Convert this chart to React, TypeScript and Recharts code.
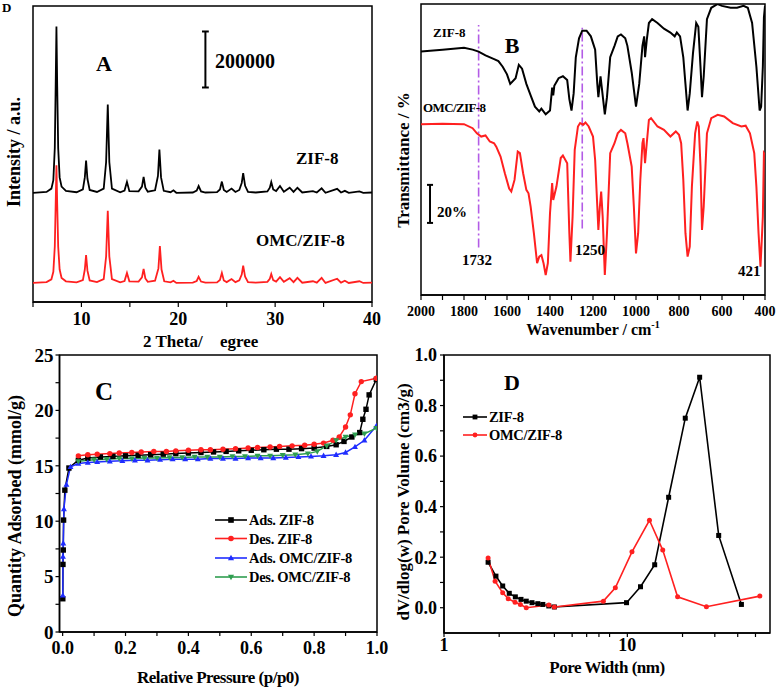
import React from 'react';
import { LineChart, Line, XAxis, YAxis, ReferenceArea, ReferenceLine } from 'recharts';

const FONT = '"Liberation Serif", "Times New Roman", Times, serif';

// ---------- Panel A : XRD ----------
const xrdTicks = [5, 10, 15, 20, 25, 30, 35, 40];
const XRD_OFFSET_ZIF8 = 390000;
const XRD_OFFSET_OMC = 68000;
const XRD_MAX = 1057000;
const XRD_BAR = [766000, 966000];
const xrdZif8: [number, number][] = [
  [5, 0], [6.4, 3000], [6.9, 15000], [7.1, 45000], [7.25, 160000], [7.34, 380000], [7.42, 594000], [7.5, 380000], [7.6, 160000],
  [7.75, 55000], [7.95, 22000], [8.4, 7000], [9.5, 2000], [10.15, 12000], [10.35, 55000], [10.48, 115000], [10.62, 50000], [10.85, 10000],
  [11.6, 3000], [12.3, 15000], [12.55, 110000], [12.72, 315000], [12.88, 110000], [13.15, 15000], [14.0, 2000], [14.45, 8000],
  [14.7, 39000], [14.95, 6000], [15.9, 5000], [16.25, 22000], [16.42, 57000], [16.6, 18000], [16.85, 4000], [17.6, 9000], [17.9, 60000],
  [18.05, 154000], [18.22, 55000], [18.5, 7000], [19.2, 2000], [19.5, 9000], [19.8, 0], [21.5, 1000], [21.9, 8000], [22.1, 24000],
  [22.35, 5000], [22.8, 1000], [24.0, 2000], [24.3, 12000], [24.5, 40000], [24.7, 10000], [25.0, 3000], [25.5, 15000], [25.9, 3000],
  [26.3, 10000], [26.55, 35000], [26.7, 70000], [26.9, 25000], [27.2, 3000], [28, 1000], [29.2, 5000], [29.45, 18000], [29.6, 38000],
  [29.8, 12000], [30.1, 6000], [30.5, 24000], [30.9, 4000], [31.5, 18000], [31.9, 3000], [32.3, 18000], [32.8, 1000], [33.9, 6000],
  [34.3, 1000], [34.8, 16000], [35.2, 0], [36.4, 14000], [36.8, 1000], [37.2, 7000], [37.6, 0], [38.7, 5000], [39.1, 0], [40, 1000],
];
const xrdOmc: [number, number][] = [
  [5, 0], [6.4, 3000], [6.9, 13000], [7.1, 40000], [7.25, 130000], [7.34, 280000], [7.42, 420000], [7.5, 280000], [7.6, 130000],
  [7.75, 48000], [7.95, 18000], [8.4, 6000], [9.5, 2000], [10.15, 10000], [10.35, 48000], [10.48, 100000], [10.62, 44000], [10.85, 9000],
  [11.6, 3000], [12.3, 14000], [12.55, 95000], [12.72, 258000], [12.88, 95000], [13.15, 14000], [14.0, 2000], [14.45, 7000],
  [14.7, 36000], [14.95, 6000], [15.9, 5000], [16.25, 20000], [16.42, 50000], [16.6, 16000], [16.85, 4000], [17.6, 8000], [17.95, 52000],
  [18.1, 132000], [18.27, 48000], [18.55, 6000], [19.2, 2000], [19.5, 8000], [19.8, 0], [21.5, 1000], [21.9, 7000], [22.1, 22000],
  [22.35, 5000], [22.8, 1000], [24.0, 2000], [24.3, 11000], [24.5, 36000], [24.7, 9000], [25.0, 3000], [25.5, 14000], [25.9, 3000],
  [26.3, 9000], [26.55, 30000], [26.7, 62000], [26.9, 22000], [27.2, 3000], [28, 1000], [29.2, 4000], [29.45, 15000], [29.6, 32000],
  [29.8, 10000], [30.1, 5000], [30.5, 21000], [30.9, 4000], [31.5, 17000], [31.9, 3000], [32.3, 18000], [32.8, 1000], [33.9, 6000],
  [34.3, 1000], [34.8, 18000], [35.2, 0], [36.4, 15000], [36.8, 1000], [37.2, 8000], [37.6, 0], [38.7, 6000], [39.1, 0], [40, 1000],
];

// ---------- Panel B : FTIR ----------
const ftirTicks = [400, 500, 600, 700, 800, 900, 1000, 1100, 1200, 1300, 1400, 1500, 1600, 1700, 1800, 1900, 2000];
const FTIR_MAX = 153;
const ftirZif8: [number, number][] = [
  [2000, 128], [1900, 129], [1800, 130], [1760, 129], [1732, 128], [1700, 126], [1660, 124], [1640, 123], [1620, 120], [1600, 116],
  [1585, 111], [1560, 114], [1545, 121], [1530, 119], [1510, 111], [1490, 105], [1470, 99], [1450, 96.5], [1440, 98], [1420, 95],
  [1400, 97], [1390, 109], [1385, 105], [1380, 110], [1360, 114], [1340, 115], [1320, 113], [1310, 103], [1300, 97], [1290, 106],
  [1280, 125], [1265, 135], [1250, 139], [1230, 139], [1210, 136], [1190, 129], [1180, 111], [1175, 104], [1165, 115], [1160, 110],
  [1145, 95], [1135, 104], [1120, 125], [1100, 131], [1085, 136], [1070, 137], [1050, 135], [1040, 131], [1020, 117], [1000, 99],
  [985, 111], [970, 131], [962, 136], [958, 125], [950, 134], [940, 143], [925, 145], [900, 143], [870, 140], [840, 138], [820, 136],
  [810, 138], [795, 136], [780, 125], [770, 111], [760, 97], [750, 106], [735, 127], [720, 143], [710, 141], [700, 120], [693, 104],
  [685, 115], [670, 145], [650, 151], [620, 153], [600, 152], [560, 151], [530, 151], [500, 152], [480, 151], [460, 143], [440, 120],
  [425, 97], [418, 99], [410, 120], [405, 146], [400, 152],
];
const ftirOmc: [number, number][] = [
  [2000, 89.8], [1900, 90], [1800, 89.8], [1760, 87.7], [1740, 85], [1720, 83.3], [1700, 83.9], [1680, 80.7], [1660, 79.8], [1650, 78],
  [1630, 72.8], [1610, 64], [1590, 56], [1580, 54.4], [1565, 60.5], [1550, 75.4], [1540, 74.6], [1525, 64], [1510, 55.3], [1500, 53.5],
  [1490, 46.5], [1475, 32.5], [1460, 16.7], [1450, 20.2], [1440, 21], [1430, 16.7], [1420, 10.5], [1410, 16.7], [1400, 43], [1390, 58.8],
  [1385, 50], [1370, 57], [1350, 72], [1340, 73.3], [1320, 69.3], [1310, 32.5], [1305, 17.5], [1295, 41], [1285, 76.3], [1270, 88.6],
  [1260, 90.4], [1245, 89.5], [1235, 90.7], [1220, 88.6], [1200, 83.3], [1190, 71], [1180, 46.5], [1175, 34.2], [1168, 46.5], [1162, 54.4],
  [1155, 41.2], [1145, 10.5], [1135, 32.5], [1120, 74.6], [1100, 79.8], [1085, 85], [1070, 86.8], [1050, 85], [1040, 79.8], [1020, 67.5],
  [1010, 46.5], [1000, 21.9], [990, 32.5], [980, 60.5], [970, 79.8], [965, 82.5], [958, 69.3], [950, 79.8], [940, 92], [930, 93],
  [900, 88.6], [870, 86.8], [840, 83.3], [815, 86], [800, 84.2], [790, 79.8], [780, 60.5], [770, 32.5], [760, 20.2], [750, 25.4],
  [740, 57], [725, 85], [715, 91.2], [708, 88.6], [700, 67.5], [693, 34.2], [685, 46.5], [670, 85], [650, 93], [620, 94.7], [590, 93.9],
  [550, 90.4], [510, 88.6], [490, 89], [470, 85], [450, 74.6], [440, 57], [430, 32.5], [421, 14.9], [415, 29], [410, 41.2], [405, 74.6],
  [400, 73.7],
];
const ftirMarks = [
  { wn: 1732, y1: 25, y2: 142 },
  { wn: 1250, y1: 35, y2: 140.5 },
];
const FTIR_BAR_WN = 1958;
const FTIR_BAR = [37.9, 57.9];

// ---------- Panel C : isotherms ----------
const isoXTicks = [0, 0.1, 0.2, 0.3, 0.4, 0.5, 0.6, 0.7, 0.8, 0.9, 1.0];
const isoYTicks = [0, 2.5, 5, 7.5, 10, 12.5, 15, 17.5, 20, 22.5, 25];
const adsZif8: [number, number][] = [
  [0.0005, 3.0], [0.001, 6.1], [0.002, 7.4], [0.003, 10.1], [0.007, 12.8], [0.02, 14.8], [0.05, 15.5], [0.08, 15.7], [0.12, 15.8],
  [0.16, 15.85], [0.2, 15.9], [0.24, 15.95], [0.28, 16.0], [0.32, 16.05], [0.36, 16.1], [0.4, 16.15], [0.44, 16.2], [0.48, 16.25],
  [0.52, 16.3], [0.56, 16.35], [0.6, 16.4], [0.64, 16.45], [0.68, 16.5], [0.72, 16.5], [0.76, 16.55], [0.8, 16.6], [0.84, 16.75],
  [0.87, 16.9], [0.895, 17.2], [0.92, 17.6], [0.945, 18.0], [0.955, 19.2], [0.965, 20.1], [0.975, 21.4], [0.998, 22.8],
];
const desZif8: [number, number][] = [
  [0.998, 22.9], [0.95, 22.6], [0.93, 21.5], [0.915, 19.6], [0.9, 18.5], [0.88, 17.6], [0.86, 17.3], [0.83, 17.05], [0.8, 16.95],
  [0.77, 16.85], [0.73, 16.8], [0.69, 16.75], [0.66, 16.7], [0.62, 16.65], [0.59, 16.6], [0.55, 16.55], [0.51, 16.5], [0.47, 16.45],
  [0.44, 16.45], [0.4, 16.4], [0.36, 16.35], [0.33, 16.3], [0.29, 16.3], [0.25, 16.25], [0.22, 16.2], [0.18, 16.15], [0.15, 16.1],
  [0.11, 16.05], [0.08, 16.0], [0.05, 15.9],
];
const adsOmc: [number, number][] = [
  [0.0005, 3.3], [0.001, 6.8], [0.002, 8.0], [0.004, 11.1], [0.012, 13.3], [0.025, 14.9], [0.05, 15.2], [0.08, 15.3], [0.11, 15.35],
  [0.15, 15.4], [0.19, 15.45], [0.23, 15.5], [0.27, 15.5], [0.31, 15.55], [0.35, 15.6], [0.39, 15.6], [0.43, 15.6], [0.47, 15.65],
  [0.51, 15.65], [0.55, 15.65], [0.59, 15.7], [0.63, 15.7], [0.67, 15.7], [0.71, 15.75], [0.75, 15.8], [0.79, 15.85], [0.83, 15.9],
  [0.87, 16.0], [0.9, 16.2], [0.93, 16.7], [0.96, 17.3], [0.998, 18.6],
];
const desOmc: [number, number][] = [
  [0.998, 18.4], [0.96, 17.9], [0.93, 17.8], [0.9, 17.6], [0.87, 17.3], [0.84, 16.8], [0.81, 16.3], [0.78, 16.1], [0.74, 16.0],
  [0.7, 15.95], [0.66, 15.9], [0.62, 15.9], [0.58, 15.85], [0.54, 15.85], [0.5, 15.8], [0.46, 15.8], [0.42, 15.8], [0.38, 15.75],
  [0.34, 15.75], [0.3, 15.7], [0.26, 15.7], [0.22, 15.65], [0.18, 15.65], [0.14, 15.6], [0.1, 15.55], [0.05, 15.4],
];

// ---------- Panel D : pore size ----------
const poreXTicks = [1, 2, 3, 4, 5, 6, 7, 8, 9, 10, 20, 30, 40, 50];
const poreYTicks = [0, 0.1, 0.2, 0.3, 0.4, 0.5, 0.6, 0.7, 0.8, 0.9, 1.0];
const poreZif8: [number, number][] = [
  [1.74, 0.18], [1.92, 0.125], [2.09, 0.086], [2.27, 0.057], [2.45, 0.043], [2.63, 0.033], [2.81, 0.026], [3.02, 0.02], [3.25, 0.016],
  [3.46, 0.013], [3.73, 0.007], [4.0, 0.003], [9.9, 0.02], [11.8, 0.083], [14.1, 0.17], [16.8, 0.437], [20.7, 0.75], [24.8, 0.912],
  [31.5, 0.286], [41.9, 0.013],
];
const poreOmc: [number, number][] = [
  [1.74, 0.197], [1.9, 0.105], [2.09, 0.059], [2.24, 0.036], [2.44, 0.022], [2.61, 0.013], [2.81, 0.0], [3.73, 0.011], [4.0, 0.003],
  [7.4, 0.026], [8.6, 0.079], [10.6, 0.221], [13.2, 0.346], [15.6, 0.228], [18.8, 0.043], [27, 0.004], [52.8, 0.046],
];

const RED = '#ff2020';
const BLUE = '#1f2dff';
const GREEN = '#2f9e50';
const PURPLE = '#b35ce6';

const toXY = (arr: [number, number][], off = 0) => arr.map(([x, y]) => ({ x, y: y + off }));

const tickStyle = (size: number) => ({ fontSize: size, fontWeight: 700, fill: '#000', fontFamily: FONT });
const axisLine = { stroke: '#000', strokeWidth: 1.5 };
const tickLine = { stroke: '#000', strokeWidth: 1.2 };

type Shape = 'square' | 'circle' | 'tri' | 'triDown';
const drawMarker = (shape: Shape, cx: number, cy: number, r: number, color: string, key?: any) => {
  if (shape === 'square') return <rect key={key} x={cx - r} y={cy - r} width={2 * r} height={2 * r} fill={color} />;
  if (shape === 'circle') return <circle key={key} cx={cx} cy={cy} r={r} fill={color} />;
  if (shape === 'tri')
    return <polygon key={key} points={`${cx},${cy - r * 1.2} ${cx - r * 1.1},${cy + r * 0.8} ${cx + r * 1.1},${cy + r * 0.8}`} fill={color} />;
  return <polygon key={key} points={`${cx},${cy + r * 1.2} ${cx - r * 1.1},${cy - r * 0.8} ${cx + r * 1.1},${cy - r * 0.8}`} fill={color} />;
};
const dotFn = (shape: Shape, color: string, r: number) => (props: any) => {
  const { cx, cy, index } = props;
  if (cx == null || cy == null || isNaN(cx) || isNaN(cy)) return <g key={`n${index}`} />;
  return drawMarker(shape, cx, cy, r, color, `${shape}${index}`);
};

const isoSeries = [
  { name: 'Ads. ZIF-8', data: adsZif8, color: '#000', shape: 'square' as Shape },
  { name: 'Des. ZIF-8', data: desZif8, color: RED, shape: 'circle' as Shape },
  { name: 'Ads. OMC/ZIF-8', data: adsOmc, color: BLUE, shape: 'tri' as Shape },
  { name: 'Des. OMC/ZIF-8', data: desOmc, color: GREEN, shape: 'triDown' as Shape },
];
const poreSeries = [
  { name: 'ZIF-8', data: poreZif8, color: '#000', shape: 'square' as Shape },
  { name: 'OMC/ZIF-8', data: poreOmc, color: RED, shape: 'circle' as Shape },
];

const T = (p: any) => <text fontFamily={FONT} fontWeight={700} fill="#000" {...p} />;

export default function App() {
  return (
    <div style={{ position: 'absolute', left: 0, top: 0, width: 778, height: 692, background: '#fff', overflow: 'hidden' }}>
      {/* Panel A */}
      <div style={{ position: 'absolute', left: 0, top: 0 }}>
        <LineChart width={390} height={350} margin={{ top: 6, left: 33, right: 18, bottom: 18 }}>
          <XAxis type="number" dataKey="x" domain={[5, 40]} ticks={xrdTicks} allowDataOverflow
            tickFormatter={(v: number) => (v % 10 === 0 ? String(v) : '')} tick={tickStyle(18)}
            tickSize={5} tickMargin={5} height={30} axisLine={axisLine} tickLine={tickLine} />
          <YAxis type="number" domain={[0, XRD_MAX]} hide allowDataOverflow />
          <ReferenceArea x1={5} x2={40} y1={0} y2={XRD_MAX} fill="none" stroke="#000" strokeWidth={1.5} ifOverflow="visible" />
          <ReferenceLine segment={[{ x: 22.8, y: XRD_BAR[0] }, { x: 22.8, y: XRD_BAR[1] }]} stroke="#000" strokeWidth={2} />
          <ReferenceLine segment={[{ x: 22.45, y: XRD_BAR[0] }, { x: 23.15, y: XRD_BAR[0] }]} stroke="#000" strokeWidth={2} />
          <ReferenceLine segment={[{ x: 22.45, y: XRD_BAR[1] }, { x: 23.15, y: XRD_BAR[1] }]} stroke="#000" strokeWidth={2} />
          <Line data={toXY(xrdOmc, XRD_OFFSET_OMC)} dataKey="y" stroke={RED} strokeWidth={1.8} dot={false} isAnimationActive={false} />
          <Line data={toXY(xrdZif8, XRD_OFFSET_ZIF8)} dataKey="y" stroke="#000" strokeWidth={1.8} dot={false} isAnimationActive={false} />
        </LineChart>
      </div>

      {/* Panel B */}
      <div style={{ position: 'absolute', left: 390, top: 0 }}>
        <LineChart width={388} height={350} margin={{ top: 4, left: 31, right: 13, bottom: 25 }}>
          <XAxis type="number" dataKey="x" domain={[400, 2000]} reversed ticks={ftirTicks} allowDataOverflow
            tickFormatter={(v: number) => (v % 200 === 0 ? String(v) : '')} tick={tickStyle(14)}
            tickSize={5} tickMargin={6} height={30} axisLine={axisLine} tickLine={tickLine} />
          <YAxis type="number" domain={[0, FTIR_MAX]} hide allowDataOverflow />
          <ReferenceArea x1={400} x2={2000} y1={0} y2={FTIR_MAX} fill="none" stroke="#000" strokeWidth={1.5} ifOverflow="visible" />
          {ftirMarks.map((m) => (
            <ReferenceLine key={m.wn} segment={[{ x: m.wn, y: m.y1 }, { x: m.wn, y: m.y2 }]} stroke={PURPLE} strokeWidth={1.6} strokeDasharray="9 3 2 3" />
          ))}
          <ReferenceLine segment={[{ x: FTIR_BAR_WN, y: FTIR_BAR[0] }, { x: FTIR_BAR_WN, y: FTIR_BAR[1] }]} stroke="#000" strokeWidth={2} />
          <ReferenceLine segment={[{ x: FTIR_BAR_WN + 14, y: FTIR_BAR[0] }, { x: FTIR_BAR_WN - 14, y: FTIR_BAR[0] }]} stroke="#000" strokeWidth={2} />
          <ReferenceLine segment={[{ x: FTIR_BAR_WN + 14, y: FTIR_BAR[1] }, { x: FTIR_BAR_WN - 14, y: FTIR_BAR[1] }]} stroke="#000" strokeWidth={2} />
          <Line data={toXY(ftirZif8)} dataKey="y" stroke="#000" strokeWidth={2} dot={false} isAnimationActive={false} />
          <Line data={toXY(ftirOmc)} dataKey="y" stroke={RED} strokeWidth={2} dot={false} isAnimationActive={false} />
        </LineChart>
      </div>

      {/* Panel C */}
      <div style={{ position: 'absolute', left: 0, top: 340 }}>
        <LineChart width={390} height={352} margin={{ top: 15, left: 19.5, right: 13, bottom: 30 }}>
          <XAxis type="number" dataKey="x" domain={[-0.01, 1]} ticks={isoXTicks} allowDataOverflow
            tickFormatter={(v: number) => (Math.round(v * 10) % 2 === 0 ? v.toFixed(1) : '')} tick={tickStyle(18)}
            tickSize={4} tickMargin={5} height={30} axisLine={axisLine} tickLine={tickLine} />
          <YAxis type="number" domain={[0, 25]} ticks={isoYTicks} width={40} allowDataOverflow
            tickFormatter={(v: number) => (v % 5 === 0 ? String(v) : '')} tick={tickStyle(19)}
            tickSize={4} tickMargin={2} axisLine={axisLine} tickLine={tickLine} />
          <ReferenceArea x1={-0.01} x2={1} y1={0} y2={25} fill="none" stroke="#000" strokeWidth={1.5} ifOverflow="visible" />
          {isoSeries.map((s) => (
            <Line key={s.name} data={toXY(s.data)} dataKey="y" stroke={s.color} strokeWidth={1.5}
              dot={dotFn(s.shape, s.color, 2.7)} isAnimationActive={false} />
          ))}
        </LineChart>
      </div>

      {/* Panel D */}
      <div style={{ position: 'absolute', left: 390, top: 340 }}>
        <LineChart width={388} height={352} margin={{ top: 15, left: 9, right: 8, bottom: 29 }}>
          <XAxis type="number" dataKey="x" scale="log" domain={[1, 60]} ticks={poreXTicks} allowDataOverflow
            tickFormatter={(v: number) => (v === 1 || v === 10 ? String(v) : '')} tick={tickStyle(18)}
            tickSize={4} tickMargin={1} height={30} axisLine={axisLine} tickLine={tickLine} />
          <YAxis type="number" domain={[-0.1, 1]} ticks={poreYTicks} width={45} allowDataOverflow
            tickFormatter={(v: number) => (Math.round(v * 10) % 2 === 0 ? v.toFixed(1) : '')} tick={tickStyle(18)}
            tickSize={4} tickMargin={3} axisLine={axisLine} tickLine={tickLine} />
          <ReferenceArea x1={1} x2={60} y1={-0.1} y2={1} fill="none" stroke="#000" strokeWidth={1.5} ifOverflow="visible" />
          {poreSeries.map((s) => (
            <Line key={s.name} data={toXY(s.data)} dataKey="y" stroke={s.color} strokeWidth={1.6}
              dot={dotFn(s.shape, s.color, 2.5)} isAnimationActive={false} />
          ))}
        </LineChart>
      </div>

      {/* Annotations */}
      <svg width={778} height={692} style={{ position: 'absolute', left: 0, top: 0, pointerEvents: 'none' }}>
        {/* panel A */}
        <T x={2} y={12} fontSize={13}>D</T>
        <T x={104} y={71} fontSize={22} textAnchor="middle">A</T>
        <T x={215} y={68} fontSize={20}>200000</T>
        <T x={296} y={164} fontSize={17}>ZIF-8</T>
        <T x={256} y={246} fontSize={17}>OMC/ZIF-8</T>
        <T x={14} y={152} fontSize={18} textAnchor="middle" dominantBaseline="central" transform="rotate(-90 14 152)">Intensity / a.u.</T>
        <T x={143} y={347} fontSize={17}>2 Theta/</T>
        <T x={220} y={347} fontSize={17}>egree</T>

        {/* panel B */}
        <T x={433} y={37} fontSize={13}>ZIF-8</T>
        <T x={423} y={112} fontSize={13} letterSpacing={-0.6}>OMC/ZIF-8</T>
        <T x={512} y={53} fontSize={22} textAnchor="middle">B</T>
        <T x={462} y={265} fontSize={15}>1732</T>
        <T x={575} y={255} fontSize={15}>1250</T>
        <T x={738} y={276} fontSize={15}>421</T>
        <T x={437} y={217} fontSize={15}>20%</T>
        <T x={403} y={160} fontSize={17} textAnchor="middle" dominantBaseline="central" transform="rotate(-90 403 160)">Transmittance / %</T>
        <T x={593} y={335} fontSize={16} textAnchor="middle">Wavenumber / cm<tspan dy={-7} fontSize={10}>-1</tspan></T>

        {/* panel C */}
        <T x={104} y={400} fontSize={25} textAnchor="middle">C</T>
        {isoSeries.map((s, i) => {
          const cy = [520, 538.5, 558, 577][i];
          return (
            <g key={s.name}>
              <line x1={215} x2={247} y1={cy} y2={cy} stroke={s.color} strokeWidth={1.6} />
              {drawMarker(s.shape, 231, cy, 2.8, s.color)}
              <T x={249} y={cy + 5} fontSize={14.5} letterSpacing={-0.3}>{s.name}</T>
            </g>
          );
        })}
        <T x={15} y={506} fontSize={18} textAnchor="middle" dominantBaseline="central" transform="rotate(-90 15 506)">Quantity Adsorbed (mmol/g)</T>
        <T x={218} y={683} fontSize={17} textAnchor="middle" letterSpacing={-0.5}>Relative Pressure (p/p0)</T>

        {/* panel D */}
        <T x={512} y={390} fontSize={22} textAnchor="middle">D</T>
        {poreSeries.map((s, i) => {
          const cy = [417, 435][i];
          return (
            <g key={s.name}>
              <line x1={463} x2={487} y1={cy} y2={cy} stroke={s.color} strokeWidth={1.6} />
              {drawMarker(s.shape, 475, cy, 2.4, s.color)}
              <T x={489} y={cy + 5} fontSize={14.5} letterSpacing={-0.3}>{s.name}</T>
            </g>
          );
        })}
        <T x={403} y={502} fontSize={17} textAnchor="middle" dominantBaseline="central" transform="rotate(-90 403 502)">dV/dlog(w) Pore Volume (cm3/g)</T>
        <T x={607} y={673} fontSize={17} textAnchor="middle" letterSpacing={-0.5}>Pore Width (nm)</T>
      </svg>
    </div>
  );
}
